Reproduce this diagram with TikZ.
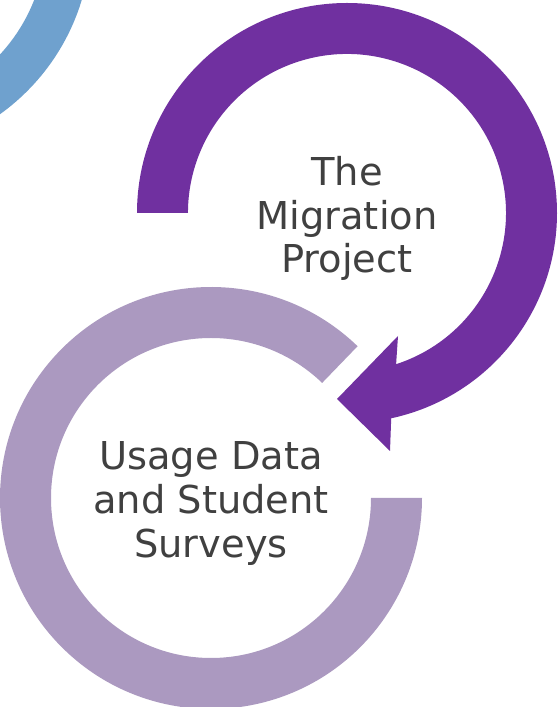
\documentclass[tikz,border=0pt]{standalone}
\usepackage{fontspec}
\setmainfont{DejaVu Sans}
\definecolor{ringpurple}{HTML}{7030A0}
\definecolor{ringlav}{HTML}{AB99C0}
\definecolor{ringblue}{HTML}{6FA1CE}
\definecolor{txtgray}{HTML}{404040}
\tikzset{
  ringlabel/.style={align=center, inner sep=0pt, text=txtgray,
    font=\fontsize{28.8}{32.8}\selectfont}
}
\begin{document}
\begin{tikzpicture}[x=0.75pt,y=0.75pt]
\clip (0,0) rectangle (558,707);
\fill[white] (0,0) rectangle (558,707);
% blue ring (top left, partly outside)
\coordinate (bc) at (-127,770);
\fill[ringblue, even odd rule] (bc) circle[radius=218] (bc) circle[radius=173];
% lavender ring
\coordinate (lc) at (211,209);
\fill[ringlav] (lc) ++(46:211) arc[start angle=46,end angle=360,radius=211]
  -- ++(-51,0) arc[start angle=360,end angle=46,radius=160] -- cycle;
% purple circular arrow
\coordinate (pc) at (347,494);
\fill[ringpurple] (188,494) -- (137,494)
  arc[start angle=180,end angle=-77.85,radius=210]
  -- (390,256) -- (337,308) -- (398,371)
  -- (396.1,342.8) arc[start angle=-72,end angle=180,radius=159] -- cycle;
% labels
\node[ringlabel] (mig) at (347,488.5) {The\\Migration\\Project};
\node[ringlabel] (use) at (211,203.5) {Usage Data\\and Student\\Surveys};
\end{tikzpicture}
\end{document}
